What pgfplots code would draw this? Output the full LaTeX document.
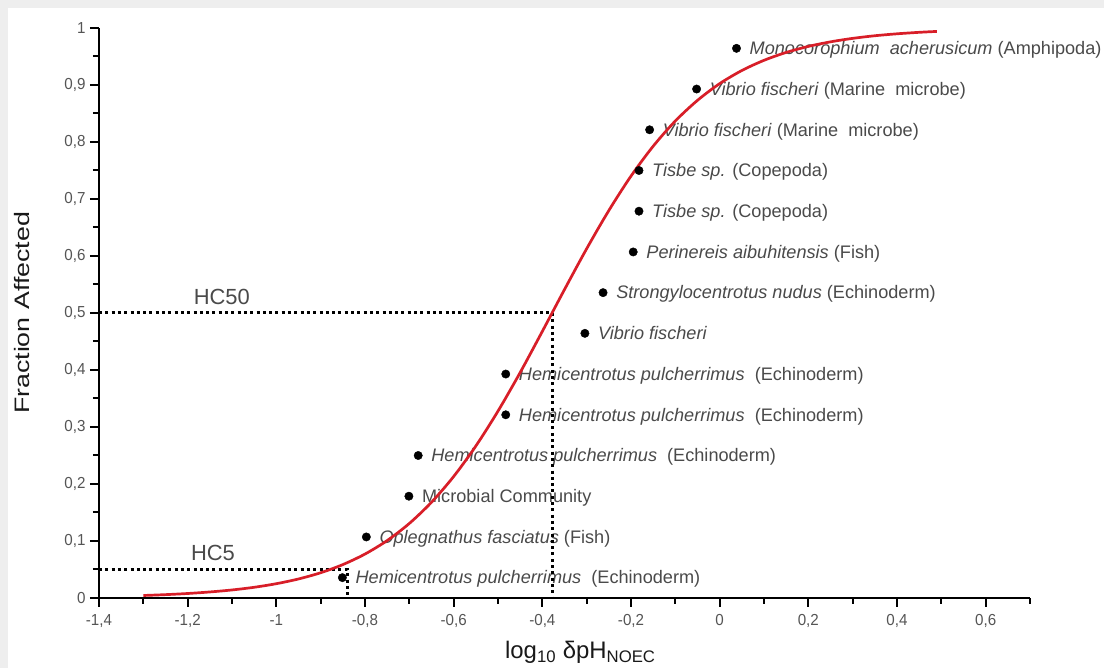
\documentclass[border=0pt]{standalone}
\usepackage{pgfplots}
\pgfplotsset{compat=1.18}
\usepackage{fontspec}
\setmainfont{Liberation Sans}
\newfontfamily\tickfont[FakeStretch=0.95]{Liberation Sans}
\newfontfamily\widefont[FakeStretch=1.28]{Liberation Sans}
\definecolor{curvered}{HTML}{D81E28}
\definecolor{labgray}{HTML}{4A4A4A}
\definecolor{tickgray}{HTML}{555555}
\definecolor{framegray}{HTML}{EEEEEE}

\begin{document}
\begin{tikzpicture}[x=1bp,y=1bp,
  lbl/.style={anchor=base west, xshift=13bp, yshift=-6.3bp, inner sep=0pt,
              font=\fontsize{18.2}{18.2}\selectfont, text=labgray},
  dotline/.style={line width=3bp, dash pattern=on 3bp off 3.3bp, black}]
\useasboundingbox (0bp,0bp) rectangle (1104bp,668bp);
\fill[framegray] (0bp,0bp) rectangle (1104bp,668bp);
\fill[white] (8bp,0bp) rectangle (1104bp,660bp);
\begin{axis}[
  at={(99bp,70bp)}, anchor=south west,
  scale only axis, width=931bp, height=570bp,
  xmin=-1.4, xmax=0.7, ymin=0, ymax=1,
  axis x line=bottom, axis y line=left,
  axis line style={-, line width=2bp, black},
  xtick={-1.4,-1.2,-1,-0.8,-0.6,-0.4,-0.2,0,0.2,0.4,0.6},
  xticklabels={{-1,4},{-1,2},{-1},{-0,8},{-0,6},{-0,4},{-0,2},{0},{0,2},{0,4},{0,6}},
  minor xtick={-1.3,-1.1,-0.9,-0.7,-0.5,-0.3,-0.1,0.1,0.3,0.5,0.7},
  ytick={0,0.1,0.2,0.3,0.4,0.5,0.6,0.7,0.8,0.9,1},
  yticklabels={{0},{0,1},{0,2},{0,3},{0,4},{0,5},{0,6},{0,7},{0,8},{0,9},{1}},
  minor ytick={0.05,0.15,0.25,0.35,0.45,0.55,0.65,0.75,0.85,0.95},
  tick align=outside,
  major tick length=9bp, minor tick length=6bp,
  tick style={line width=2bp, black},
  tick label style={font=\tickfont\fontsize{16}{16}\selectfont, text=tickgray},
  xticklabel style={yshift=-4bp},
  yticklabel style={xshift=-1bp},
  ylabel={Fraction Affected},
  ylabel style={font=\widefont\fontsize{21}{21}\selectfont, text=black!90,
                at={(axis description cs:-0.0827,0.5)}, anchor=center},
  xlabel={log\textsubscript{10} δpH\textsubscript{NOEC}},
  xlabel style={font=\fontsize{24}{24}\selectfont, text=black!90,
                at={(axis description cs:0.517,-0.095)}, anchor=center},
  clip=false,
]
% species labels
\node[lbl] at (axis cs:0.038,0.9643) {\textit{Monocorophium\ \ acherusicum} (Amphipoda)};
\node[lbl] at (axis cs:-0.052,0.8929) {\textit{Vibrio fischeri} (Marine\ \ microbe)};
\node[lbl] at (axis cs:-0.158,0.8214) {\textit{Vibrio fischeri} (Marine\ \ microbe)};
\node[lbl] at (axis cs:-0.182,0.7500) {\textit{Tisbe sp.} (Copepoda)};
\node[lbl] at (axis cs:-0.182,0.6786) {\textit{Tisbe sp.} (Copepoda)};
\node[lbl] at (axis cs:-0.195,0.6071) {\textit{Perinereis aibuhitensis} (Fish)};
\node[lbl] at (axis cs:-0.263,0.5357) {\textit{Strongylocentrotus nudus} (Echinoderm)};
\node[lbl] at (axis cs:-0.304,0.4643) {\textit{Vibrio fischeri}};
\node[lbl] at (axis cs:-0.4825,0.3929) {\textit{Hemicentrotus pulcherrimus}\ \ (Echinoderm)};
\node[lbl] at (axis cs:-0.4825,0.3214) {\textit{Hemicentrotus pulcherrimus}\ \ (Echinoderm)};
\node[lbl] at (axis cs:-0.680,0.2500) {\textit{Hemicentrotus pulcherrimus}\ \ (Echinoderm)};
\node[lbl] at (axis cs:-0.701,0.1786) {Microbial Community};
\node[lbl] at (axis cs:-0.797,0.1071) {\textit{Oplegnathus fasciatus} (Fish)};
\node[lbl] at (axis cs:-0.851,0.0357) {\textit{Hemicentrotus pulcherrimus}\ \ (Echinoderm)};
\node[font=\fontsize{22}{22}\selectfont, text=labgray] at (axis cs:-1.123,0.528) {HC50};
\node[font=\fontsize{22}{22}\selectfont, text=labgray] at (axis cs:-1.143,0.079) {HC5};
% HC lines
\addplot[dotline] coordinates {(-1.4,0.5) (-0.377,0.5) (-0.377,0)};
\addplot[dotline] coordinates {(-1.4,0.05) (-0.84,0.05) (-0.84,0)};
% fitted curve
\addplot[curvered, line width=2.7bp, smooth] coordinates {
(-1.30,0.0044) (-1.25,0.0059) (-1.20,0.0079) (-1.15,0.0106) (-1.10,0.0141)
(-1.05,0.0188) (-1.00,0.0251) (-0.95,0.0334) (-0.90,0.0443) (-0.85,0.0586)
(-0.80,0.0771) (-0.75,0.1008) (-0.70,0.1308) (-0.65,0.1680) (-0.60,0.2132)
(-0.55,0.2666) (-0.50,0.3279) (-0.45,0.3956) (-0.40,0.4678) (-0.35,0.5412)
(-0.30,0.6128) (-0.25,0.6798) (-0.20,0.7402) (-0.15,0.7926) (-0.10,0.8369)
(-0.05,0.8731) (0.00,0.9024) (0.05,0.9254) (0.10,0.9433) (0.15,0.9571)
(0.20,0.9677) (0.25,0.9757) (0.30,0.9818) (0.35,0.9864) (0.40,0.9898)
(0.45,0.9924) (0.49,0.9940)};
% species points
\addplot[only marks, mark=*, mark size=4.2bp, black] coordinates {
(0.038,0.9643) (-0.052,0.8929) (-0.158,0.8214) (-0.182,0.7500) (-0.182,0.6786)
(-0.195,0.6071) (-0.263,0.5357) (-0.304,0.4643) (-0.4825,0.3929) (-0.4825,0.3214)
(-0.680,0.2500) (-0.701,0.1786) (-0.797,0.1071) (-0.851,0.0357)};
\end{axis}
\end{tikzpicture}
\end{document}
